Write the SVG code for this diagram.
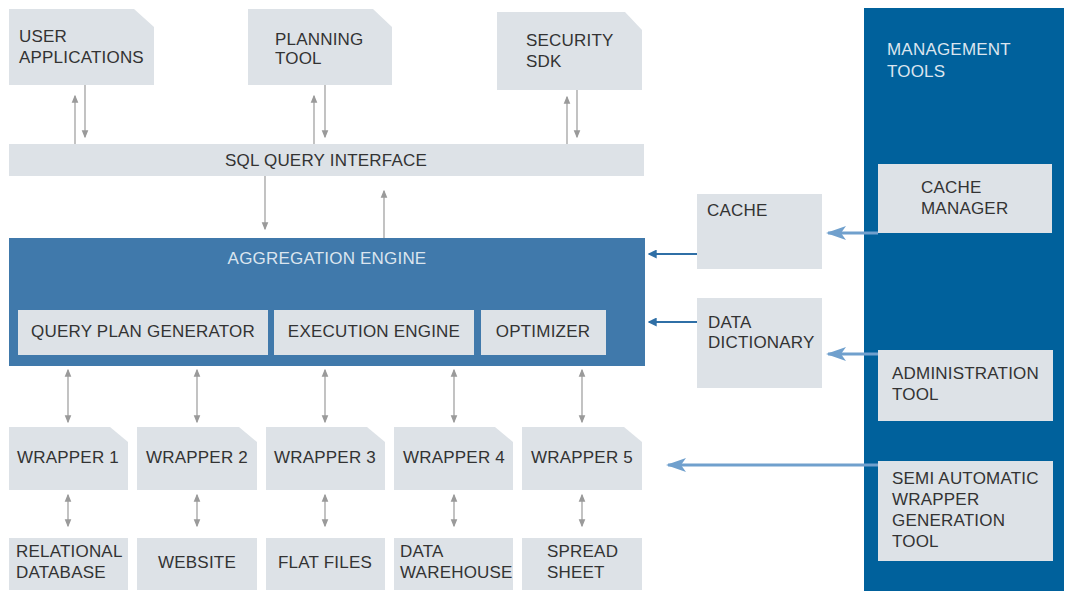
<svg xmlns="http://www.w3.org/2000/svg" width="1065" height="592" viewBox="0 0 1065 592">
<defs>
<style>
.box{fill:#dde2e7}
.t{font-family:"Liberation Sans",Arial,sans-serif;font-size:17px;fill:#333;letter-spacing:0.2px}
.w{fill:#dbe5ef}
.c{text-anchor:middle}
.g{stroke:#9a9a9a;stroke-width:1.2;fill:none}
.db{stroke:#2f6fa6;stroke-width:2;fill:none}
.lb{stroke:#70a0cd;stroke-width:3;fill:none}
</style>
<marker id="ga" markerUnits="userSpaceOnUse" markerWidth="8" markerHeight="8" refX="5" refY="3" orient="auto-start-reverse" viewBox="0 0 6 6"><path d="M0,0.5 L6,3 L0,5.5 z" fill="#9a9a9a"/></marker>
<marker id="da" markerUnits="userSpaceOnUse" markerWidth="9" markerHeight="9" refX="6" refY="3.5" orient="auto" viewBox="0 0 7 7"><path d="M0,0 L7,3.5 L0,7 z" fill="#2f6fa6"/></marker>
<marker id="la" markerUnits="userSpaceOnUse" markerWidth="20" markerHeight="14" refX="18" refY="7" orient="auto" viewBox="0 0 20 14"><path d="M0,0 L20,7 L0,14 L5,7 z" fill="#70a0cd"/></marker>
</defs>

<g id="management-tools">
<rect x="864" y="8" width="200" height="583" fill="#00619c"/>
<text class="t w" x="887" y="55">MANAGEMENT</text>
<text class="t w" x="887" y="77">TOOLS</text>
</g>

<g id="user-applications">
<polygon class="box" points="9,9 134,9 154,27 154,85 9,85"/>
<text class="t" x="19" y="42">USER</text>
<text class="t" x="19" y="63">APPLICATIONS</text>
</g>
<g id="planning-tool">
<polygon class="box" points="248,9 373,9 392,27 392,85 248,85"/>
<text class="t" x="275" y="45">PLANNING</text>
<text class="t" x="275" y="64">TOOL</text>
</g>
<g id="security-sdk">
<polygon class="box" points="497,12 625,12 642,30 642,90 497,90"/>
<text class="t" x="526" y="46">SECURITY</text>
<text class="t" x="526" y="67">SDK</text>
</g>

<g id="sql-query-interface">
<rect class="box" x="9" y="144" width="635" height="32"/>
<text class="t c" x="326" y="166">SQL QUERY INTERFACE</text>
</g>

<g id="aggregation-engine">
<rect x="9" y="238" width="636" height="128" fill="#4079ab"/>
<text class="t w c" x="327" y="264">AGGREGATION ENGINE</text>
</g>
<g id="query-plan-generator">
<rect class="box" x="18" y="310" width="250" height="45"/>
<text class="t c" x="143" y="337">QUERY PLAN GENERATOR</text>
</g>
<g id="execution-engine">
<rect class="box" x="274" y="310" width="200" height="45"/>
<text class="t c" x="374" y="337">EXECUTION ENGINE</text>
</g>
<g id="optimizer">
<rect class="box" x="481" y="310" width="125" height="45"/>
<text class="t c" x="543" y="337">OPTIMIZER</text>
</g>

<g id="cache">
<rect class="box" x="697" y="194" width="125" height="75"/>
<text class="t" x="707" y="216">CACHE</text>
</g>
<g id="data-dictionary">
<rect class="box" x="697" y="298" width="125" height="90"/>
<text class="t" x="708" y="328">DATA</text>
<text class="t" x="708" y="348">DICTIONARY</text>
</g>

<g id="cache-manager">
<rect class="box" x="878" y="164" width="174" height="69"/>
<text class="t" x="921" y="193">CACHE</text>
<text class="t" x="921" y="214">MANAGER</text>
</g>
<g id="administration-tool">
<rect class="box" x="878" y="350" width="175" height="71"/>
<text class="t" x="892" y="379">ADMINISTRATION</text>
<text class="t" x="892" y="400">TOOL</text>
</g>
<g id="semi-automatic-wrapper-generation-tool">
<rect class="box" x="878" y="461" width="175" height="100"/>
<text class="t" x="892" y="484">SEMI AUTOMATIC</text>
<text class="t" x="892" y="505">WRAPPER</text>
<text class="t" x="892" y="526">GENERATION</text>
<text class="t" x="892" y="547">TOOL</text>
</g>

<g id="wrapper-1">
<polygon class="box" points="9,427 110,427 128,442 128,490 9,490"/>
<text class="t c" x="68" y="463">WRAPPER 1</text>
</g>
<g id="wrapper-2">
<polygon class="box" points="137,427 239,427 257,442 257,490 137,490"/>
<text class="t c" x="197" y="463">WRAPPER 2</text>
</g>
<g id="wrapper-3">
<polygon class="box" points="266,427 367,427 385,442 385,490 266,490"/>
<text class="t c" x="325" y="463">WRAPPER 3</text>
</g>
<g id="wrapper-4">
<polygon class="box" points="394,427 495,427 513,442 513,490 394,490"/>
<text class="t c" x="454" y="463">WRAPPER 4</text>
</g>
<g id="wrapper-5">
<polygon class="box" points="522,427 624,427 642,442 642,490 522,490"/>
<text class="t c" x="582" y="463">WRAPPER 5</text>
</g>

<g id="relational-database">
<rect class="box" x="9" y="538" width="119" height="52"/>
<text class="t" x="16" y="557">RELATIONAL</text>
<text class="t" x="16" y="578">DATABASE</text>
</g>
<g id="website">
<rect class="box" x="137" y="538" width="120" height="52"/>
<text class="t c" x="197" y="568">WEBSITE</text>
</g>
<g id="flat-files">
<rect class="box" x="266" y="538" width="119" height="52"/>
<text class="t c" x="325" y="568">FLAT FILES</text>
</g>
<g id="data-warehouse">
<rect class="box" x="394" y="538" width="119" height="52"/>
<text class="t" x="400" y="557">DATA</text>
<text class="t" x="400" y="578">WAREHOUSE</text>
</g>
<g id="spread-sheet">
<rect class="box" x="522" y="538" width="120" height="52"/>
<text class="t" x="547" y="557">SPREAD</text>
<text class="t" x="547" y="578">SHEET</text>
</g>

<g id="connectors">
<line class="g" x1="75" y1="144" x2="75" y2="96" marker-end="url(#ga)"/>
<line class="g" x1="85" y1="85" x2="85" y2="137" marker-end="url(#ga)"/>
<line class="g" x1="314" y1="144" x2="314" y2="96" marker-end="url(#ga)"/>
<line class="g" x1="325" y1="85" x2="325" y2="137" marker-end="url(#ga)"/>
<line class="g" x1="567" y1="144" x2="567" y2="97" marker-end="url(#ga)"/>
<line class="g" x1="577" y1="90" x2="577" y2="137" marker-end="url(#ga)"/>
<line class="g" x1="265" y1="176" x2="265" y2="229" marker-end="url(#ga)"/>
<line class="g" x1="384" y1="238" x2="384" y2="191" marker-end="url(#ga)"/>

<line class="g" x1="68" y1="370" x2="68" y2="422" marker-start="url(#ga)" marker-end="url(#ga)"/>
<line class="g" x1="197" y1="370" x2="197" y2="422" marker-start="url(#ga)" marker-end="url(#ga)"/>
<line class="g" x1="325" y1="370" x2="325" y2="422" marker-start="url(#ga)" marker-end="url(#ga)"/>
<line class="g" x1="454" y1="370" x2="454" y2="422" marker-start="url(#ga)" marker-end="url(#ga)"/>
<line class="g" x1="582" y1="370" x2="582" y2="422" marker-start="url(#ga)" marker-end="url(#ga)"/>

<line class="g" x1="68" y1="495" x2="68" y2="526" marker-start="url(#ga)" marker-end="url(#ga)"/>
<line class="g" x1="197" y1="495" x2="197" y2="526" marker-start="url(#ga)" marker-end="url(#ga)"/>
<line class="g" x1="325" y1="495" x2="325" y2="526" marker-start="url(#ga)" marker-end="url(#ga)"/>
<line class="g" x1="454" y1="495" x2="454" y2="526" marker-start="url(#ga)" marker-end="url(#ga)"/>
<line class="g" x1="582" y1="495" x2="582" y2="526" marker-start="url(#ga)" marker-end="url(#ga)"/>

<line class="db" x1="697" y1="254" x2="649" y2="254" marker-end="url(#da)"/>
<line class="db" x1="697" y1="322" x2="649" y2="322" marker-end="url(#da)"/>

<line class="lb" x1="878" y1="233" x2="828" y2="233" marker-end="url(#la)"/>
<line class="lb" x1="878" y1="354" x2="828" y2="354" marker-end="url(#la)"/>
<line class="lb" x1="878" y1="465" x2="668" y2="465" marker-end="url(#la)"/>
</g>
</svg>
